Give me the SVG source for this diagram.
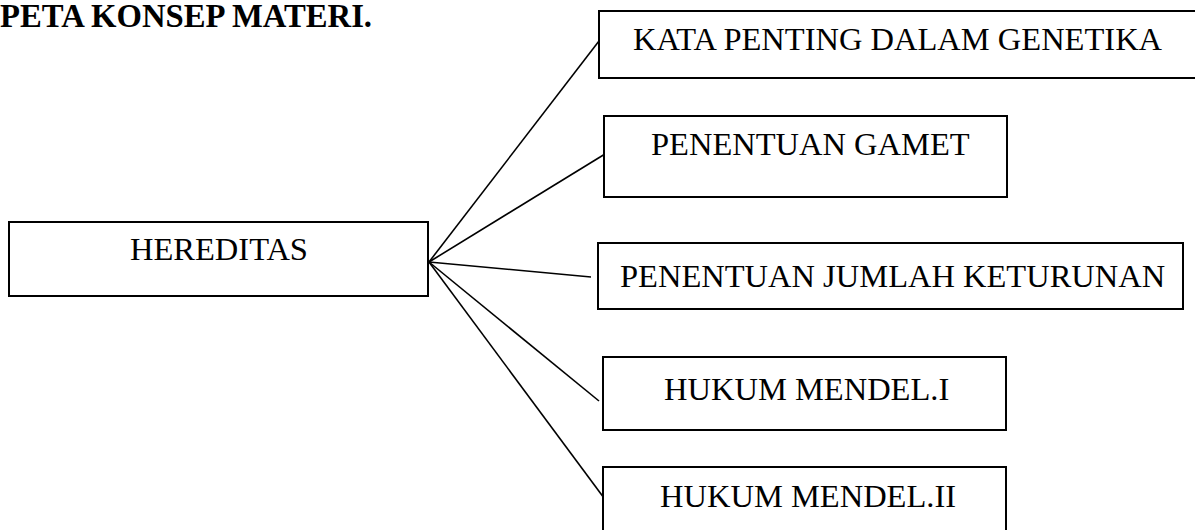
<svg xmlns="http://www.w3.org/2000/svg" width="1195" height="530" viewBox="0 0 1195 530">
<style>
.box{fill:#fff;stroke:#000;stroke-width:2}
.lbl{font-family:"Liberation Serif","Times New Roman",serif;font-size:32.5px;fill:#000}
.title{font-family:"Liberation Serif","Times New Roman",serif;font-size:32.7px;font-weight:bold;fill:#000}
.con{stroke:#000;stroke-width:1.6;fill:none}
</style>
<rect width="1195" height="530" fill="#fff"/>
<text class="title" x="0" y="27">PETA KONSEP MATERI.</text>
<g id="connectors">
<line class="con" x1="429" y1="262" x2="599" y2="41"/>
<line class="con" x1="429" y1="262" x2="605" y2="154"/>
<line class="con" x1="429" y1="262" x2="591" y2="277"/>
<line class="con" x1="429" y1="262" x2="599" y2="401"/>
<line class="con" x1="429" y1="262" x2="604" y2="498"/>
</g>
<g id="node-hereditas">
<rect class="box" x="9" y="222" width="419" height="74"/>
<text class="lbl" x="130" y="260">HEREDITAS</text>
</g>
<g id="node-kata">
<rect class="box" x="599" y="11" width="610" height="67"/>
<text class="lbl" x="633" y="50">KATA PENTING DALAM GENETIKA</text>
</g>
<g id="node-gamet">
<rect class="box" x="604" y="116" width="403" height="81"/>
<text class="lbl" x="651" y="155">PENENTUAN GAMET</text>
</g>
<g id="node-jumlah">
<rect class="box" x="598" y="243" width="585" height="66"/>
<text class="lbl" x="620" y="287">PENENTUAN JUMLAH KETURUNAN</text>
</g>
<g id="node-mendel1">
<rect class="box" x="603" y="357" width="403" height="73"/>
<text class="lbl" x="664" y="400">HUKUM MENDEL.I</text>
</g>
<g id="node-mendel2">
<rect class="box" x="603" y="467" width="403" height="80"/>
<text class="lbl" x="660" y="507">HUKUM MENDEL.II</text>
</g>
</svg>
